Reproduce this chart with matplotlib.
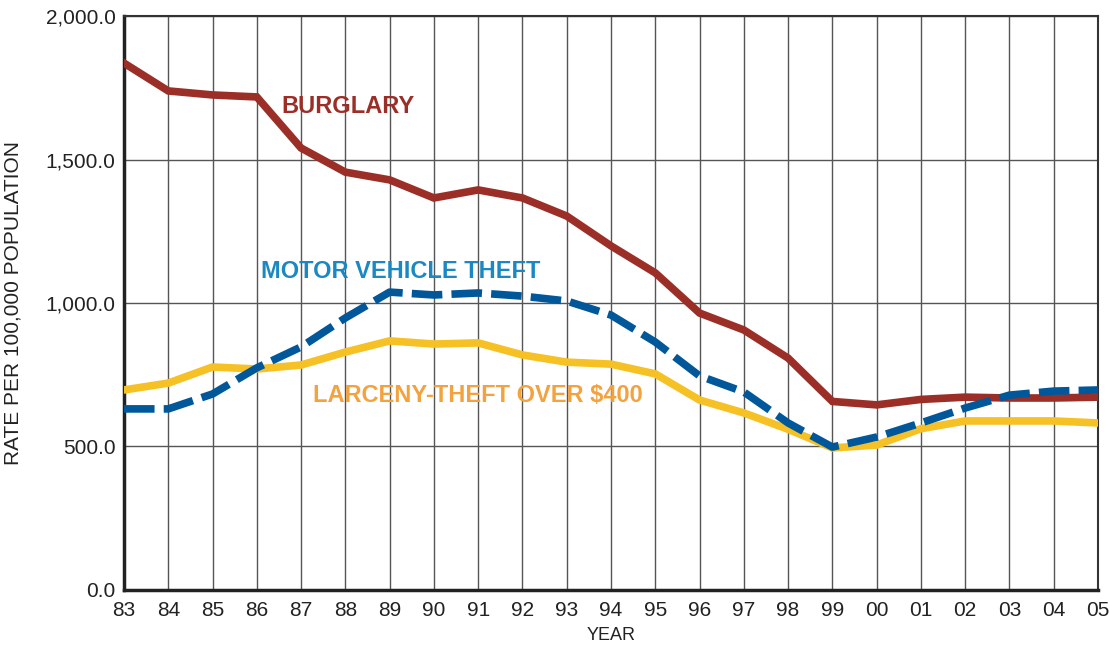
import matplotlib.pyplot as plt

plt.rcParams['font.family'] = ['Liberation Sans', 'DejaVu Sans']

years = ['83', '84', '85', '86', '87', '88', '89', '90', '91', '92', '93', '94',
         '95', '96', '97', '98', '99', '00', '01', '02', '03', '04', '05']

burglary = [1836, 1739, 1725, 1718, 1540, 1456, 1429, 1366, 1394, 1366, 1303, 1199,
            1105, 965, 906, 808, 657, 645, 664, 672, 669, 669, 672]
motor_vehicle = [631, 631, 683, 774, 847, 948, 1038, 1028, 1035, 1024, 1007, 958,
                 864, 746, 690, 582, 498, 533, 582, 634, 679, 693, 697]
larceny = [697, 721, 777, 770, 784, 829, 868, 857, 861, 819, 794, 787,
           753, 662, 617, 560, 495, 505, 562, 589, 589, 589, 582]

y_ticks = [0, 500, 1000, 1500, 2000]

x = list(range(len(years)))

fig = plt.figure(figsize=(11.1, 6.46), dpi=100)
ax = fig.add_axes([0.1117, 0.0867, 0.8775, 0.8885])

ax.plot(x, burglary, color='#9B2F27', lw=5.5, solid_joinstyle='miter', zorder=3)
ax.plot(x, larceny, color='#F5C125', lw=5.5, solid_joinstyle='miter', zorder=3)
ax.plot(x, motor_vehicle, color='#00589A', lw=5.5, dashes=(4.0, 1.2),
        dash_capstyle='butt', zorder=4)

ax.text(5.05, 1683, 'BURGLARY', color='#9B2F27', fontsize=17, fontweight='bold',
        ha='center', va='center')
ax.text(6.26, 1111, 'MOTOR VEHICLE THEFT', color='#1A88C2', fontsize=17,
        fontweight='bold', ha='center', va='center')
ax.text(8.0, 679, 'LARCENY-THEFT OVER $400', color='#F3A23E', fontsize=17,
        fontweight='bold', ha='center', va='center')

ax.set_xlim(0, len(years) - 1)
ax.set_ylim(0, 2000)
ax.set_xticks(x)
ax.set_xticklabels(years)
ax.set_yticks(y_ticks)
ax.set_yticklabels([f'{v:,.1f}' for v in y_ticks])
ax.tick_params(length=0, labelsize=15, colors='#222222')
ax.tick_params(axis='x', pad=8)
ax.tick_params(axis='y', pad=6)

ax.grid(True, color='#555555', lw=1)
ax.set_axisbelow(True)

for side in ['left', 'bottom']:
    ax.spines[side].set_linewidth(2.5)
    ax.spines[side].set_color('#222222')
for side in ['top', 'right']:
    ax.spines[side].set_linewidth(1.5)
    ax.spines[side].set_color('#333333')

ax.set_ylabel('RATE PER 100,000 POPULATION', fontsize=15, color='#222222', labelpad=17)
ax.set_xlabel('YEAR', fontsize=13, color='#222222', labelpad=5)

fig.savefig('out.png', dpi=100)
